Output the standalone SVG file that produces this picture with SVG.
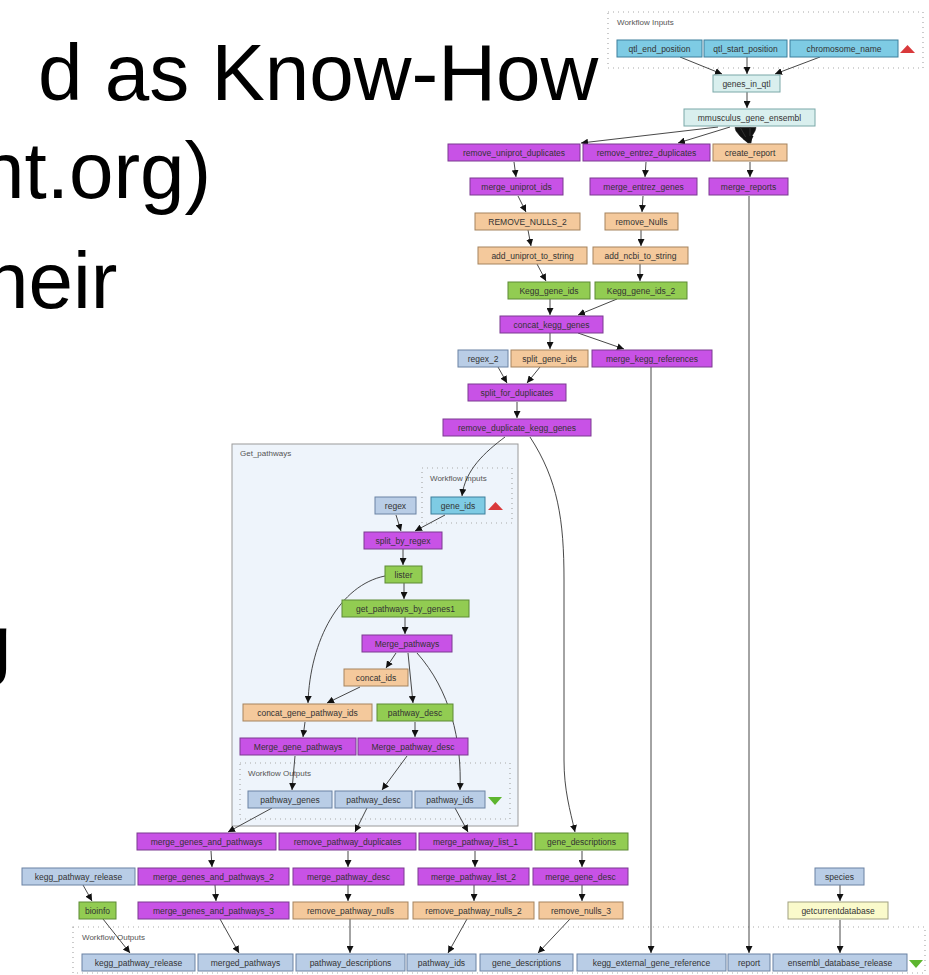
<svg xmlns="http://www.w3.org/2000/svg" width="929" height="975" viewBox="0 0 929 975">
<style>
.slide{font-family:"Liberation Sans",Arial,sans-serif;font-size:80px;fill:#000}
.n rect{stroke-width:1}
.n text{font-family:"Liberation Sans",Arial,sans-serif;font-size:8.5px;fill:#333;text-anchor:middle}
.pu rect{fill:#c852e6;stroke:#7b3a90}
.ta rect{fill:#f4c99c;stroke:#a5835e}
.gr rect{fill:#92cc52;stroke:#5c8a34}
.ib rect{fill:#7ecbe4;stroke:#3d7f9c}
.sb rect{fill:#b9cde6;stroke:#6b82a3}
.cy rect{fill:#d9efee;stroke:#7aa8a8}
.ye rect{fill:#fafacb;stroke:#a0a080}
.dot{fill:none;stroke:#aaa;stroke-width:1.2;stroke-dasharray:1,4}
.lbl{font-family:"Liberation Sans",Arial,sans-serif;font-size:8px;fill:#555}
.e path{fill:none;stroke:#333;stroke-width:0.9;marker-end:url(#ah)}
.e path.blob{fill:#111;stroke:#111;stroke-width:0.6;marker-end:none}
</style>
<defs>
<marker id="ah" viewBox="0 0 10 10" refX="10" refY="5" markerWidth="7" markerHeight="7" markerUnits="userSpaceOnUse" orient="auto"><path d="M0,0 L10,5 L0,10 z" fill="#111"/></marker>
</defs>
<rect width="929" height="975" fill="#fff"/>
<g id="slide-text">
<text class="slide" x="38" y="100">d as Know-How</text>
<text class="slide" x="-20" y="198">nt.org)</text>
<text class="slide" x="-16" y="308">heir</text>
<text class="slide" x="-33" y="670">g</text>
</g>
<g id="clusters">
<rect class="dot" x="608" y="12" width="315" height="56"/>
<text class="lbl" x="617" y="25">Workflow Inputs</text>
<rect id="Get_pathways" x="232" y="444" width="286" height="382" fill="#eef4fb" stroke="#9a9a9a" stroke-width="1"/>
<text class="lbl" x="240" y="456">Get_pathways</text>
<rect class="dot" x="422" y="468" width="90" height="55"/>
<text class="lbl" x="430" y="481">Workflow Inputs</text>
<rect class="dot" x="240" y="763" width="270" height="56"/>
<text class="lbl" x="248" y="776">Workflow Outputs</text>
<rect class="dot" x="73" y="927" width="852" height="46"/>
<text class="lbl" x="82" y="940">Workflow Outputs</text>
<path d="M900,53 L915,53 L907.5,45 z" fill="#d9393b"/>
<path d="M488,510 L503,510 L495.5,502 z" fill="#d9393b"/>
<path d="M488,797 L502,797 L495,805 z" fill="#5db52e"/>
<path d="M909,960 L923,960 L916,968 z" fill="#5db52e"/>
</g>
<g id="connectors" class="e">
<path d="M680,57 L722,74"/>
<path d="M747,57 L747,74"/>
<path d="M820,57 L775,74"/>
<path d="M747,92 L747,108"/>
<path d="M718,127 L581,143"/>
<path d="M730,127 L678,143"/>
<path class="blob" d="M735,127.5 L756,127.5 L755,131 L752,136 L751,143 L748,143 L740,136 L736,131 z"/>
<path d="M740,127 L749,143"/>
<path d="M750,127 L750,143"/>
<path d="M514,162 L516,177"/>
<path d="M646,162 L645,177"/>
<path d="M750,162 L750,177"/>
<path d="M518,196 L526,212"/>
<path d="M643,196 L642,212"/>
<path d="M528,230 L531,246"/>
<path d="M641,230 L641,246"/>
<path d="M537,264 L546,281"/>
<path d="M640,264 L640,281"/>
<path d="M550,299 L550,315"/>
<path d="M617,299 L578,315"/>
<path d="M550,333 L550,349"/>
<path d="M578,333 L624,349"/>
<path d="M498,367 L507,383"/>
<path d="M540,367 L527,383"/>
<path d="M517,402 L517,418"/>
<path d="M749,196 L749,953"/>
<path d="M651,367 L651,953"/>
<path d="M505,437 C485,452 465,470 462,496"/>
<path d="M530,437 C558,480 564,520 564,580 L564,760 C564,790 570,810 575,832"/>
<path d="M396,515 L401,531"/>
<path d="M445,515 L415,531"/>
<path d="M403,549 L403,565"/>
<path d="M404,583 L404,599"/>
<path d="M385,576 C340,585 310,640 308,703"/>
<path d="M405,617 L405,634"/>
<path d="M396,653 L386,668"/>
<path d="M408,653 L413,703"/>
<path d="M417,653 C450,690 462,740 460,790"/>
<path d="M360,687 L327,703"/>
<path d="M305,722 L303,737"/>
<path d="M415,722 L415,737"/>
<path d="M295,756 L292,790"/>
<path d="M407,756 L382,790"/>
<path d="M272,808 L228,832"/>
<path d="M367,808 L355,832"/>
<path d="M455,808 L468,832"/>
<path d="M211,851 L212,867"/>
<path d="M215,885 L216,901"/>
<path d="M220,919 L239,953"/>
<path d="M83,885 L92,901"/>
<path d="M103,919 L130,953"/>
<path d="M348,851 L348,867"/>
<path d="M348,885 L348,901"/>
<path d="M350,919 L350,953"/>
<path d="M475,851 L475,867"/>
<path d="M474,885 L474,901"/>
<path d="M467,919 L448,953"/>
<path d="M582,851 L582,867"/>
<path d="M582,885 L582,901"/>
<path d="M570,919 L538,953"/>
<path d="M840,885 L840,901"/>
<path d="M840,920 L840,953"/>
</g>
<g id="qtl_end_position" class="n ib"><rect x="617" y="40" width="85" height="17"/><text x="659.5" y="51.5">qtl_end_position</text></g>
<g id="qtl_start_position" class="n ib"><rect x="704" y="40" width="83" height="17"/><text x="745.5" y="51.5">qtl_start_position</text></g>
<g id="chromosome_name" class="n ib"><rect x="790" y="40" width="108" height="17"/><text x="844" y="51.5">chromosome_name</text></g>
<g id="genes_in_qtl" class="n cy"><rect x="713" y="75" width="67" height="17"/><text x="746.5" y="86.5">genes_in_qtl</text></g>
<g id="mmusculus_gene_ensembl" class="n cy"><rect x="684" y="109" width="131" height="17"/><text x="749.5" y="120.5">mmusculus_gene_ensembl</text></g>
<g id="remove_uniprot_duplicates" class="n pu"><rect x="448" y="144" width="132" height="17"/><text x="514" y="155.5">remove_uniprot_duplicates</text></g>
<g id="remove_entrez_duplicates" class="n pu"><rect x="583" y="144" width="127" height="17"/><text x="646.5" y="155.5">remove_entrez_duplicates</text></g>
<g id="create_report" class="n ta"><rect x="713" y="144" width="74" height="17"/><text x="750" y="155.5">create_report</text></g>
<g id="merge_uniprot_ids" class="n pu"><rect x="470" y="178" width="93" height="17"/><text x="516.5" y="189.5">merge_uniprot_ids</text></g>
<g id="merge_entrez_genes" class="n pu"><rect x="590" y="178" width="107" height="17"/><text x="643.5" y="189.5">merge_entrez_genes</text></g>
<g id="merge_reports" class="n pu"><rect x="709" y="178" width="79" height="17"/><text x="748.5" y="189.5">merge_reports</text></g>
<g id="REMOVE_NULLS_2" class="n ta"><rect x="475" y="213" width="105" height="17"/><text x="527.5" y="224.5">REMOVE_NULLS_2</text></g>
<g id="remove_Nulls" class="n ta"><rect x="605" y="213" width="73" height="17"/><text x="641.5" y="224.5">remove_Nulls</text></g>
<g id="add_uniprot_to_string" class="n ta"><rect x="478" y="247" width="109" height="17"/><text x="532.5" y="258.5">add_uniprot_to_string</text></g>
<g id="add_ncbi_to_string" class="n ta"><rect x="593" y="247" width="95" height="17"/><text x="640.5" y="258.5">add_ncbi_to_string</text></g>
<g id="Kegg_gene_ids" class="n gr"><rect x="508" y="282" width="82" height="17"/><text x="549" y="293.5">Kegg_gene_ids</text></g>
<g id="Kegg_gene_ids_2" class="n gr"><rect x="595" y="282" width="92" height="17"/><text x="641" y="293.5">Kegg_gene_ids_2</text></g>
<g id="concat_kegg_genes" class="n pu"><rect x="500" y="316" width="103" height="17"/><text x="551.5" y="327.5">concat_kegg_genes</text></g>
<g id="regex_2" class="n sb"><rect x="458" y="350" width="50" height="17"/><text x="483" y="361.5">regex_2</text></g>
<g id="split_gene_ids" class="n ta"><rect x="511" y="350" width="77" height="17"/><text x="549.5" y="361.5">split_gene_ids</text></g>
<g id="merge_kegg_references" class="n pu"><rect x="592" y="350" width="120" height="17"/><text x="652" y="361.5">merge_kegg_references</text></g>
<g id="split_for_duplicates" class="n pu"><rect x="468" y="384" width="98" height="17"/><text x="517" y="395.5">split_for_duplicates</text></g>
<g id="remove_duplicate_kegg_genes" class="n pu"><rect x="443" y="419" width="148" height="17"/><text x="517" y="430.5">remove_duplicate_kegg_genes</text></g>
<g id="regex" class="n sb"><rect x="375" y="497" width="41" height="17"/><text x="395.5" y="508.5">regex</text></g>
<g id="gene_ids" class="n ib"><rect x="431" y="497" width="54" height="17"/><text x="458" y="508.5">gene_ids</text></g>
<g id="split_by_regex" class="n pu"><rect x="364" y="532" width="78" height="17"/><text x="403" y="543.5">split_by_regex</text></g>
<g id="lister" class="n gr"><rect x="385" y="566" width="37" height="17"/><text x="403.5" y="577.5">lister</text></g>
<g id="get_pathways_by_genes1" class="n gr"><rect x="342" y="600" width="127" height="17"/><text x="405.5" y="611.5">get_pathways_by_genes1</text></g>
<g id="Merge_pathways" class="n pu"><rect x="362" y="635" width="90" height="17"/><text x="407" y="646.5">Merge_pathways</text></g>
<g id="concat_ids" class="n ta"><rect x="344" y="669" width="64" height="17"/><text x="376" y="680.5">concat_ids</text></g>
<g id="concat_gene_pathway_ids" class="n ta"><rect x="243" y="704" width="129" height="17"/><text x="307.5" y="715.5">concat_gene_pathway_ids</text></g>
<g id="pathway_desc" class="n gr"><rect x="377" y="704" width="76" height="17"/><text x="415" y="715.5">pathway_desc</text></g>
<g id="Merge_gene_pathways" class="n pu"><rect x="240" y="738" width="116" height="17"/><text x="298" y="749.5">Merge_gene_pathways</text></g>
<g id="Merge_pathway_desc" class="n pu"><rect x="358" y="738" width="110" height="17"/><text x="413" y="749.5">Merge_pathway_desc</text></g>
<g id="out_pathway_genes" class="n sb"><rect x="248" y="791" width="84" height="17"/><text x="290" y="802.5">pathway_genes</text></g>
<g id="out_pathway_desc" class="n sb"><rect x="335" y="791" width="77" height="17"/><text x="373.5" y="802.5">pathway_desc</text></g>
<g id="out_pathway_ids" class="n sb"><rect x="415" y="791" width="70" height="17"/><text x="450" y="802.5">pathway_ids</text></g>
<g id="merge_genes_and_pathways" class="n pu"><rect x="137" y="833" width="139" height="17"/><text x="206.5" y="844.5">merge_genes_and_pathways</text></g>
<g id="remove_pathway_duplicates" class="n pu"><rect x="279" y="833" width="137" height="17"/><text x="347.5" y="844.5">remove_pathway_duplicates</text></g>
<g id="merge_pathway_list_1" class="n pu"><rect x="419" y="833" width="113" height="17"/><text x="475.5" y="844.5">merge_pathway_list_1</text></g>
<g id="gene_descriptions" class="n gr"><rect x="535" y="833" width="93" height="17"/><text x="581.5" y="844.5">gene_descriptions</text></g>
<g id="in_kegg_pathway_release" class="n sb"><rect x="22" y="868" width="113" height="17"/><text x="78.5" y="879.5">kegg_pathway_release</text></g>
<g id="merge_genes_and_pathways_2" class="n pu"><rect x="138" y="868" width="151" height="17"/><text x="213.5" y="879.5">merge_genes_and_pathways_2</text></g>
<g id="merge_pathway_desc" class="n pu"><rect x="293" y="868" width="111" height="17"/><text x="348.5" y="879.5">merge_pathway_desc</text></g>
<g id="merge_pathway_list_2" class="n pu"><rect x="418" y="868" width="111" height="17"/><text x="473.5" y="879.5">merge_pathway_list_2</text></g>
<g id="merge_gene_desc" class="n pu"><rect x="533" y="868" width="95" height="17"/><text x="580.5" y="879.5">merge_gene_desc</text></g>
<g id="species" class="n sb"><rect x="815" y="868" width="49" height="17"/><text x="839.5" y="879.5">species</text></g>
<g id="bioinfo" class="n gr"><rect x="79" y="902" width="37" height="17"/><text x="97.5" y="913.5">bioinfo</text></g>
<g id="merge_genes_and_pathways_3" class="n pu"><rect x="138" y="902" width="151" height="17"/><text x="213.5" y="913.5">merge_genes_and_pathways_3</text></g>
<g id="remove_pathway_nulls" class="n ta"><rect x="293" y="902" width="115" height="17"/><text x="350.5" y="913.5">remove_pathway_nulls</text></g>
<g id="remove_pathway_nulls_2" class="n ta"><rect x="413" y="902" width="121" height="17"/><text x="473.5" y="913.5">remove_pathway_nulls_2</text></g>
<g id="remove_nulls_3" class="n ta"><rect x="539" y="902" width="84" height="17"/><text x="581" y="913.5">remove_nulls_3</text></g>
<g id="getcurrentdatabase" class="n ye"><rect x="788" y="902" width="100" height="17"/><text x="838" y="913.5">getcurrentdatabase</text></g>
<g id="out_kegg_pathway_release" class="n sb"><rect x="82" y="954" width="113" height="17"/><text x="138.5" y="965.5">kegg_pathway_release</text></g>
<g id="merged_pathways" class="n sb"><rect x="198" y="954" width="95" height="17"/><text x="245.5" y="965.5">merged_pathways</text></g>
<g id="pathway_descriptions" class="n sb"><rect x="296" y="954" width="109" height="17"/><text x="350.5" y="965.5">pathway_descriptions</text></g>
<g id="pathway_ids" class="n sb"><rect x="407" y="954" width="69" height="17"/><text x="441.5" y="965.5">pathway_ids</text></g>
<g id="out_gene_descriptions" class="n sb"><rect x="480" y="954" width="93" height="17"/><text x="526.5" y="965.5">gene_descriptions</text></g>
<g id="kegg_external_gene_reference" class="n sb"><rect x="577" y="954" width="149" height="17"/><text x="651.5" y="965.5">kegg_external_gene_reference</text></g>
<g id="report" class="n sb"><rect x="728" y="954" width="42" height="17"/><text x="749" y="965.5">report</text></g>
<g id="ensembl_database_release" class="n sb"><rect x="773" y="954" width="134" height="17"/><text x="840" y="965.5">ensembl_database_release</text></g>
</svg>
